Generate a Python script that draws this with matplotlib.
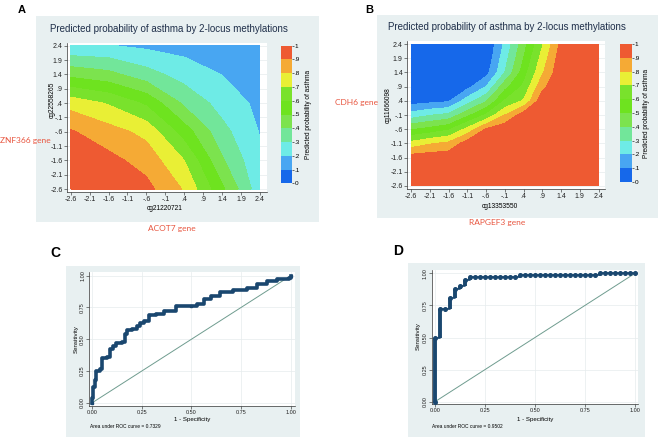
import matplotlib
matplotlib.use("Agg")
import matplotlib.pyplot as plt
from matplotlib.patches import Rectangle

plt.rcParams['font.family'] = ['Liberation Sans', 'DejaVu Sans']

W, H = 658, 437

# axis ticks shared by both contour panels
grid_ticks = [-2.6, -2.1, -1.6, -1.1, -0.6, -0.1, 0.4, 0.9, 1.4, 1.9, 2.4]
grid_labels = ["-2.6", "-2.1", "-1.6", "-1.1", "-.6", "-.1", ".4", ".9", "1.4", "1.9", "2.4"]

# probability bands of the legend
prob_levels = [0, 0.1, 0.2, 0.3, 0.4, 0.5, 0.6, 0.7, 0.8, 0.9, 1.0]
level_labels = ["0", ".1", ".2", ".3", ".4", ".5", ".6", ".7", ".8", ".9", "1"]
band_colors = ["#1668ea", "#48a6f2", "#6eebe6", "#72e69a", "#7ce34e",
               "#6ee31f", "#79e22c", "#e9ef35", "#f5aa35", "#ee5a32"]

# panel A: predicted probability, rows = cg22558265, cols = cg21220721
a_x = [-2.6, -1.6, -0.6, 0.4, 1.4, 2.4]
a_y = [-2.6, -1.6, -0.6, 0.4, 1.4, 2.4]
a_prob = [
    [0.99, 0.975, 0.93, 0.79, 0.52, 0.235],
    [0.97, 0.93, 0.86, 0.70, 0.413, 0.212],
    [0.91, 0.84, 0.77, 0.55, 0.332, 0.195],
    [0.76, 0.69, 0.58, 0.38, 0.259, 0.175],
    [0.47, 0.43, 0.34, 0.256, 0.198, 0.155],
    [0.21, 0.205, 0.18, 0.163, 0.148, 0.14],
]

# panel B: rows = cg11666098, cols = cg13353550
b_x = [-2.6, -2.1, -1.6, -1.1, -0.6, -0.1, 0.4, 0.9, 1.4, 1.9, 2.4]
b_y = [-2.6, -2.1, -1.6, -1.1, -0.6, -0.1, 0.4, 0.9, 1.4, 1.9, 2.4]
b_prob = [
    [0.99, 0.995, 1.0, 1.0, 1.0, 1.0, 1.0, 1.0, 1.0, 1.0, 1.0],
    [0.98, 0.985, 0.99, 1.0, 1.0, 1.0, 1.0, 1.0, 1.0, 1.0, 1.0],
    [0.95, 0.96, 0.965, 0.99, 1.0, 1.0, 1.0, 1.0, 1.0, 1.0, 1.0],
    [0.735, 0.79, 0.823, 0.95, 0.99, 0.99, 1.0, 1.0, 1.0, 1.0, 1.0],
    [0.49, 0.53, 0.583, 0.73, 0.91, 0.97, 0.99, 1.0, 1.0, 1.0, 1.0],
    [0.24, 0.294, 0.325, 0.474, 0.614, 0.8, 0.95, 0.99, 1.0, 1.0, 1.0],
    [0.05, 0.065, 0.085, 0.249, 0.387, 0.608, 0.71, 0.965, 1.0, 1.0, 1.0],
    [0.02, 0.02, 0.03, 0.07, 0.2, 0.466, 0.62, 0.874, 0.99, 1.0, 1.0],
    [0.01, 0.01, 0.01, 0.02, 0.06, 0.3, 0.55, 0.787, 0.98, 0.99, 1.0],
    [0.0, 0.0, 0.0, 0.0, 0.02, 0.26, 0.5, 0.74, 0.96, 0.985, 0.995],
    [0.0, 0.0, 0.0, 0.0, 0.0, 0.22, 0.46, 0.69, 0.93, 0.98, 0.99],
]

# ROC curves
roc_ticks = [0, 0.25, 0.5, 0.75, 1.0]
roc_labels = ["0.00", "0.25", "0.50", "0.75", "1.00"]

c_fpr = [0, 0, 0.005, 0.012, 0.018, 0.04, 0.05, 0.075, 0.09, 0.105, 0.12, 0.15,
         0.165, 0.175, 0.2, 0.225, 0.24, 0.26, 0.285, 0.32, 0.36, 0.42, 0.5, 0.53,
         0.565, 0.6, 0.645, 0.71, 0.78, 0.83, 0.88, 0.93, 0.99, 1.0]
c_tpr = [0, 0.04, 0.12, 0.18, 0.25, 0.265, 0.35, 0.36, 0.42, 0.445, 0.47, 0.48,
         0.54, 0.57, 0.58, 0.60, 0.63, 0.64, 0.69, 0.70, 0.72, 0.76, 0.765, 0.78,
         0.82, 0.84, 0.87, 0.885, 0.905, 0.935, 0.958, 0.975, 0.985, 1.0]
c_auc = "Area under ROC curve = 0.7329"

d_fpr = [0, 0, 0.025, 0.05, 0.075, 0.1, 0.125, 0.15, 0.175, 0.2, 0.225, 0.25,
         0.275, 0.3, 0.325, 0.35, 0.375, 0.4, 0.425, 0.45, 0.475, 0.5, 0.525,
         0.55, 0.575, 0.6, 0.625, 0.65, 0.675, 0.7, 0.725, 0.75, 0.775, 0.8,
         0.825, 0.85, 0.875, 0.9, 0.925, 0.95, 0.975, 1.0]
d_tpr = [0, 0.5, 0.72, 0.72, 0.81, 0.88, 0.90, 0.95, 0.975, 0.975, 0.975, 0.975,
         0.975, 0.975, 0.975, 0.975, 0.975, 0.975, 0.987, 0.987, 0.987, 0.987,
         0.987, 0.987, 0.987, 0.987, 0.987, 0.987, 0.987, 0.987, 0.987, 0.987,
         0.987, 0.987, 1.0, 1.0, 1.0, 1.0, 1.0, 1.0, 1.0, 1.0]
d_auc = "Area under ROC curve = 0.9502"

bg = "#e8f0f1"
grid_col = "#e6eced"
navy = "#1a476f"
ref_col = "#6f9c8f"
gene_red = "#e8553f"


def box(l, t, r, b):
    return [l / W, 1 - b / H, (r - l) / W, (b - t) / H]


def ftext(x, y, s, **kw):
    fig.text(x / W, 1 - y / H, s, **kw)


def background(l, t, r, b):
    fig.add_artist(Rectangle((l / W, 1 - b / H), (r - l) / W, (b - t) / H,
                             transform=fig.transFigure, facecolor=bg,
                             edgecolor="none", zorder=-5))


fig = plt.figure(figsize=(W / 100, H / 100), dpi=100)
fig.patch.set_facecolor("white")


def contour_panel(rect, cbar_rect, xs, ys, prob, xlim, ylim):
    ax = fig.add_axes(rect)
    cs = ax.contourf(xs, ys, prob, levels=prob_levels, colors=band_colors,
                     zorder=2, antialiased=False)
    ax.set_xlim(xlim)
    ax.set_ylim(ylim)
    ax.set_xticks(grid_ticks)
    ax.set_xticklabels(grid_labels)
    ax.set_yticks(grid_ticks)
    ax.set_yticklabels(grid_labels)
    ax.tick_params(labelsize=5, length=2, width=0.4, pad=1, colors="#222222")
    for s in ["top", "right"]:
        ax.spines[s].set_visible(False)
    for s in ["left", "bottom"]:
        ax.spines[s].set_linewidth(0.5)
        ax.spines[s].set_color("#333333")
    ax.grid(axis="y", color=grid_col, lw=0.5, zorder=0)
    ax.set_axisbelow(True)
    cax = fig.add_axes(cbar_rect)
    cb = fig.colorbar(cs, cax=cax, ticks=prob_levels)
    cb.ax.set_yticklabels(level_labels)
    cb.outline.set_visible(False)
    cb.ax.tick_params(labelsize=4.6, length=1.5, width=0.4, pad=0.5)
    return ax


# ---- panel A ----
background(36, 16, 319, 222)
contour_panel(box(66.7, 42.7, 266.7, 191.7), box(281, 45.7, 292, 183.3),
              a_x, a_y, a_prob, (-2.706, 2.577), (-2.694, 2.505))
ftext(18, 10, "A", fontsize=8, fontweight="bold", va="center")
ftext(169, 29, "Predicted probability of asthma by 2-locus methylations",
      fontsize=7, ha="center", va="center", color="#1f2f4a")
ftext(52, 100, "cg22558265", fontsize=4.8, rotation=90, ha="center", va="center")
ftext(165, 208, "cg21220721", fontsize=4.8, ha="center", va="center")
ftext(308.5, 114, "Predicted probability of asthma", fontsize=4.7, rotation=90,
      ha="center", va="center")
ftext(0, 140, "ZNF366 gene", fontsize=6, color=gene_red, va="center",
      family=["Lato", "DejaVu Sans"])
ftext(172, 228, "ACOT7 gene", fontsize=6, color=gene_red, ha="center",
      va="center", family=["Lato", "DejaVu Sans"])

# ---- panel B ----
background(377, 15, 658, 218)
contour_panel(box(407, 41, 605, 189), box(620, 44, 632, 182),
              b_x, b_y, b_prob, (-2.707, 2.57), (-2.706, 2.506))
ftext(365, 10, "B", fontsize=8, fontweight="bold", va="center")
ftext(507, 27, "Predicted probability of asthma by 2-locus methylations",
      fontsize=7, ha="center", va="center", color="#1f2f4a")
ftext(388, 105, "cg11666098", fontsize=4.8, rotation=90, ha="center", va="center")
ftext(500, 207, "cg13353550", fontsize=4.8, ha="center", va="center")
ftext(646.5, 113, "Predicted probability of asthma", fontsize=4.7, rotation=90,
      ha="center", va="center")
ftext(357, 103, "CDH6 gene", fontsize=6, color=gene_red, ha="center",
      va="center", family=["Lato", "DejaVu Sans"])
ftext(497, 223, "RAPGEF3 gene", fontsize=6, color=gene_red, ha="center",
      va="center", family=["Lato", "DejaVu Sans"])


def roc_panel(rect, xlim, ylim):
    ax = fig.add_axes(rect)
    ax.set_xlim(xlim)
    ax.set_ylim(ylim)
    ax.set_xticks(roc_ticks)
    ax.set_xticklabels(roc_labels)
    ax.set_yticks(roc_ticks)
    ax.set_yticklabels(roc_labels, rotation=90, va="center")
    ax.tick_params(labelsize=4, length=2, width=0.4, pad=1, colors="#222222")
    for s in ["top", "right"]:
        ax.spines[s].set_visible(False)
    for s in ["left", "bottom"]:
        ax.spines[s].set_linewidth(0.5)
        ax.spines[s].set_color("#333333")
    ax.grid(color=grid_col, lw=0.5, zorder=0)
    ax.set_axisbelow(True)
    ax.plot([0, 1], [0, 1], color=ref_col, lw=0.7, zorder=2)
    return ax


# ---- panel C ----
background(66, 266, 300, 437)
ax_c = roc_panel(box(89.3, 272, 295, 405.7), (-0.0151, 1.0217), (-0.0236, 1.029))
ax_c.plot(c_fpr, c_tpr, drawstyle="steps-post", color=navy, lw=2.6,
          marker="s", ms=2.0, zorder=3)
ftext(55, 253, "C", fontsize=10, fontweight="bold", ha="center", va="center")
ftext(76, 339, "Sensitivity", fontsize=4.4, rotation=90, ha="center", va="center")
ftext(192, 419, "1 - Specificity", fontsize=4.4, ha="center", va="center")
ftext(90, 427, c_auc, fontsize=3.5, va="center")

# ---- panel D ----
background(408, 263, 645, 437)
ax_d = roc_panel(box(431.7, 270, 638.3, 404.3), (-0.0164, 1.0164), (-0.0202, 1.0257))
ax_d.plot(d_fpr, d_tpr, drawstyle="steps-post", color=navy, lw=1.2,
          marker="o", ms=2.6, zorder=3)
for i in range(1, len(d_fpr)):
    if d_tpr[i] != d_tpr[i - 1]:
        ax_d.vlines(d_fpr[i], d_tpr[i - 1], d_tpr[i], color=navy, lw=2.8, zorder=3)
ftext(398, 251, "D", fontsize=10, fontweight="bold", ha="center", va="center")
ftext(418, 336, "Sensitivity", fontsize=4.4, rotation=90, ha="center", va="center")
ftext(535, 419, "1 - Specificity", fontsize=4.4, ha="center", va="center")
ftext(432, 427, d_auc, fontsize=3.5, va="center")

fig.savefig("out.png", dpi=100)
